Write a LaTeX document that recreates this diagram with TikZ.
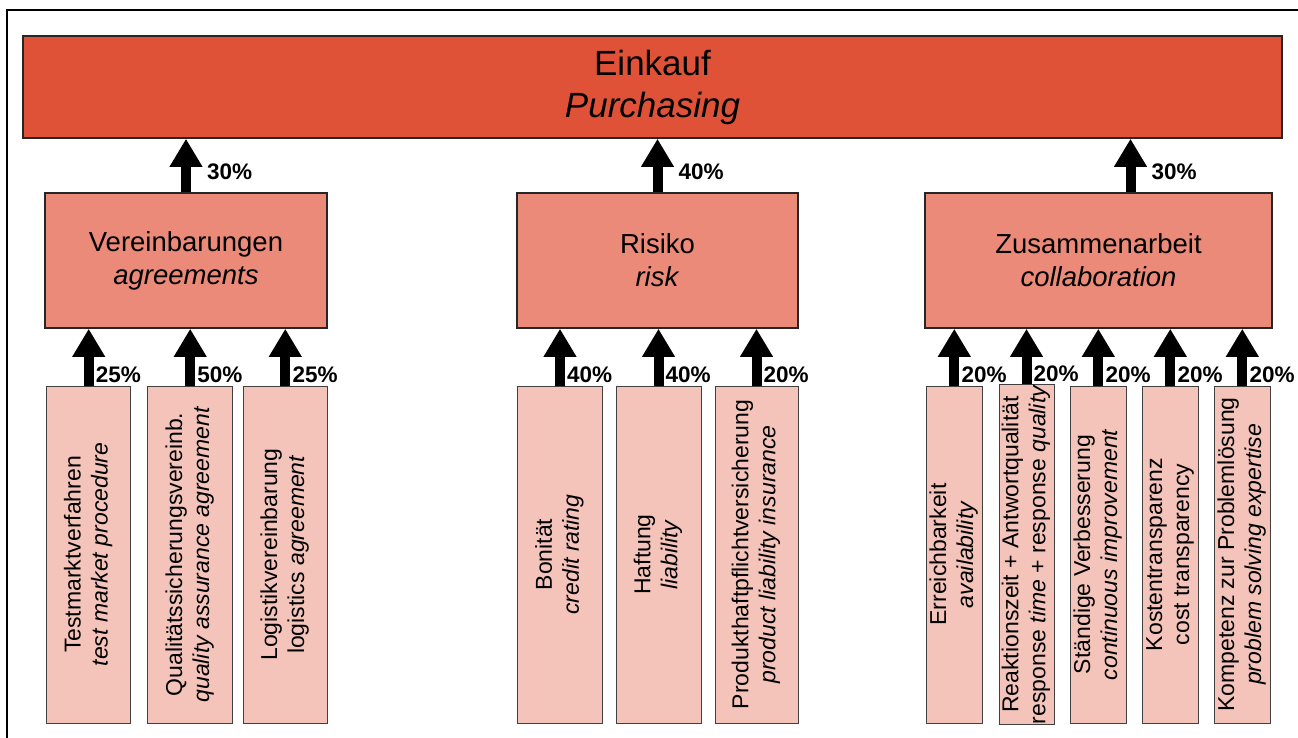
\documentclass[tikz,border=0pt]{standalone}
\usepackage{fontspec}
\setmainfont{Liberation Sans}
\usetikzlibrary{arrows.meta}
\definecolor{topc}{HTML}{E05238}
\definecolor{midc}{HTML}{EB8A78}
\definecolor{leafc}{HTML}{F4C4BA}
\newcommand{\lftxt}[2]{\rotatebox{90}{\begin{tabular}{@{}c@{}}#1\\#2\end{tabular}}}
\begin{document}
\begin{tikzpicture}[x=1pt,y=-1pt,
  topbox/.style={draw=black!85, line width=1.6pt, fill=topc, minimum width=1259pt, minimum height=102pt, inner sep=0pt, align=center, font=\fontsize{35}{42}\selectfont},
  midbox/.style={draw=black!85, line width=1.6pt, fill=midc, minimum height=135pt, inner sep=0pt, align=center, font=\fontsize{27.5}{33}\selectfont},
  leafbox/.style={draw=black!75, line width=0.9pt, fill=leafc, minimum height=337pt, inner sep=0pt, font=\fontsize{23}{27}\selectfont},
  barrow/.style={line width=10pt, -{Triangle[length=28pt,width=31pt]}},
  pct/.style={inner sep=0pt, font=\fontsize{22.5}{27}\selectfont\bfseries, anchor=base west}]
\useasboundingbox (0,0) rectangle (1298,738);
\draw[line width=2pt] (7,738) -- (7,10) -- (1298,10);

\node[topbox] (top) at (652.5,87) {Einkauf\\\textit{Purchasing}};

\node[midbox, minimum width=282pt] (v) at (186,260.5) {Vereinbarungen\\\textit{agreements}};
\node[midbox, minimum width=281pt] (r) at (657.5,260.5) {Risiko\\\textit{risk}};
\node[midbox, minimum width=347pt] (z) at (1098.5,260.5) {Zusammenarbeit\\\textit{collaboration}};

\node[leafbox, minimum width=84pt] (l1) at (88.7,554.5) {\lftxt{Testmarktverfahren}{\textit{test market procedure}}};
\node[leafbox, minimum width=85pt] (l2) at (190.2,554.5) {\lftxt{Qualitätssicherungsvereinb.}{\textit{quality assurance agreement}}};
\node[leafbox, minimum width=84.7pt] (l3) at (285.3,554.5) {\lftxt{Logistikvereinbarung}{logistics \textit{agreement}}};

\node[leafbox, minimum width=84.3pt] (r1) at (560,554.5) {\lftxt{Bonität}{\textit{credit rating}}};
\node[leafbox, minimum width=85pt] (r2) at (658.5,554.5) {\lftxt{Haftung}{\textit{liability}}};
\node[leafbox, minimum width=83pt] (r3) at (756.5,554.5) {\lftxt{Produkthaftpflichtversicherung}{\textit{product liability insurance}}};

\node[leafbox, minimum width=56.7pt] (z1) at (954.3,554.5) {\lftxt{Erreichbarkeit}{\textit{availability}}};
\node[leafbox, minimum width=55pt] (z2) at (1026.5,554.5) {\lftxt{Reaktionszeit + Antwortqualität}{response \textit{time} + response \textit{quality}}};
\node[leafbox, minimum width=56.7pt] (z3) at (1098.3,554.5) {\lftxt{Ständige Verbesserung}{\textit{continuous improvement}}};
\node[leafbox, minimum width=55.3pt] (z4) at (1170.3,554.5) {\lftxt{Kostentransparenz}{cost transparency}};
\node[leafbox, minimum width=56.7pt] (z5) at (1242.3,554.5) {\lftxt{Kompetenz zur Problemlösung}{\textit{problem solving expertise}}};

% top-level arrows
\draw[barrow] (v.north) -- (v.north |- top.south);
\draw[barrow] (r.north) -- (r.north |- top.south);
\draw[barrow] ([xshift=32pt]z.north) -- ([xshift=32pt]z.north |- top.south);
\node[pct] (pv) at ([xshift=21pt,yshift=13pt]v.north) {30\%};
\node[pct] (pr) at ([xshift=21pt,yshift=13pt]r.north) {40\%};
\node[pct] (pz) at ([xshift=53pt,yshift=13pt]z.north) {30\%};

% leaf arrows
\foreach \n/\m/\p in {l1/v/25, l2/v/50, l3/v/25, r1/r/40, r2/r/40, r3/r/20, z1/z/20, z2/z/20, z3/z/20, z4/z/20, z5/z/20}{
  \draw[barrow] (\n.north) -- (\n.north |- \m.south);
  \node[pct] (p\n) at ([xshift=7pt,yshift=3pt]\n.north) {\p\%};
}
\end{tikzpicture}
\end{document}
